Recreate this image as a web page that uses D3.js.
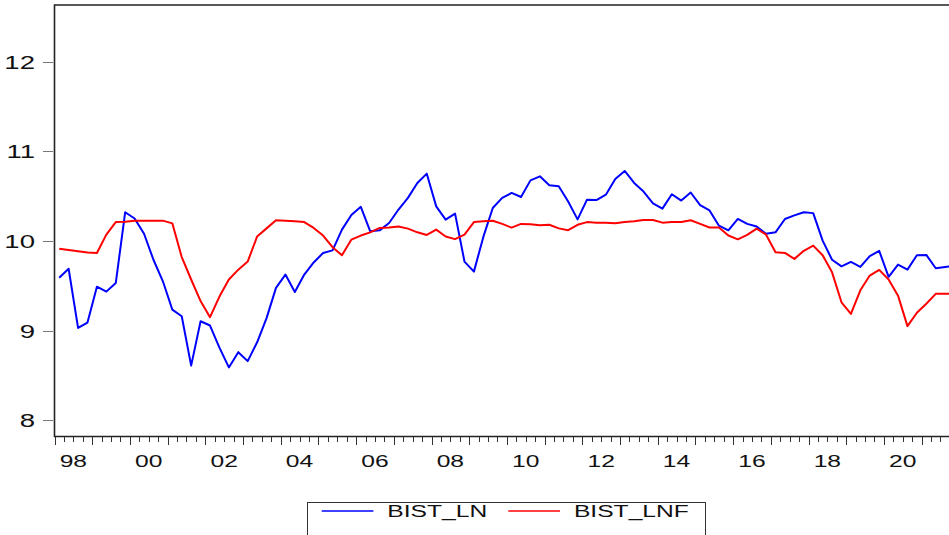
<!DOCTYPE html>
<html>
<head>
<meta charset="utf-8">
<script src="https://cdn.jsdelivr.net/npm/d3@7"></script>
<style>
    body { margin: 0; background: #fff; }
    svg { display: block; font-family: "Liberation Sans", Arial, sans-serif; }
</style>
</head>
<body>
<div id="chart"></div>
<script>

// quarterly series, 1998Q1 onwards
let startYear = 1998;

let bistLn = [
    9.59, 9.69, 9.03, 9.09, 9.49, 9.435, 9.53, 10.32,
    10.25, 10.08, 9.79, 9.55, 9.235, 9.16, 8.61, 9.105,
    9.057, 8.81, 8.59, 8.76, 8.66, 8.87, 9.14, 9.477,
    9.625, 9.43, 9.625, 9.76, 9.866, 9.895, 10.126, 10.29,
    10.38, 10.107, 10.118, 10.2, 10.35, 10.48, 10.646, 10.75,
    10.385, 10.237, 10.304, 9.77, 9.658, 10.045, 10.367, 10.48,
    10.535, 10.49, 10.675, 10.72, 10.62, 10.61, 10.44, 10.24,
    10.46, 10.456, 10.515, 10.69, 10.78, 10.646, 10.55, 10.42,
    10.36, 10.52, 10.45, 10.54, 10.40, 10.34, 10.17, 10.118,
    10.245, 10.19, 10.16, 10.08, 10.096, 10.245, 10.285, 10.32,
    10.31, 10.003, 9.79, 9.717, 9.766, 9.71, 9.83, 9.89,
    9.60, 9.736, 9.68, 9.84, 9.844, 9.695, 9.71, 9.72
];

let bistLnf = [
    9.914, 9.90, 9.885, 9.87, 9.865, 10.07, 10.21, 10.215,
    10.226, 10.226, 10.226, 10.226, 10.196, 9.82, 9.57, 9.33,
    9.15, 9.38, 9.57, 9.68, 9.77, 10.05, 10.14, 10.23,
    10.225, 10.22, 10.21, 10.145, 10.06, 9.93, 9.84, 10.015,
    10.06, 10.096, 10.145, 10.15, 10.16, 10.137, 10.096, 10.067,
    10.126, 10.05, 10.02, 10.07, 10.21, 10.22, 10.225, 10.19,
    10.148, 10.19, 10.186, 10.174, 10.18, 10.14, 10.12, 10.18,
    10.21, 10.204, 10.204, 10.196, 10.21, 10.22, 10.234, 10.234,
    10.204, 10.21, 10.21, 10.23, 10.19, 10.15, 10.15, 10.06,
    10.018, 10.067, 10.137, 10.07, 9.873, 9.866, 9.80, 9.89,
    9.948, 9.84, 9.65, 9.316, 9.187, 9.45, 9.614, 9.677,
    9.57, 9.39, 9.05, 9.20, 9.30, 9.41, 9.41, 9.41
];

let yTicks = [8, 9, 10, 11, 12];
let labelYears = [1998, 2000, 2002, 2004, 2006, 2008, 2010, 2012, 2014, 2016, 2018, 2020];
let labelTexts = ["98", "00", "02", "04", "06", "08", "10", "12", "14", "16", "18", "20"];

let seriesNames = ["BIST_LN", "BIST_LNF"];
let seriesColors = ["#0000ff", "#ff0000"];


let width = 949, height = 535;
let plot = {left: 54.5, top: 5, bottom: 436.5, right: 959.3};
let stretch = 1.45;   // the original text is drawn wide

let svg = d3.select("#chart").append("svg")
    .attr("width", width)
    .attr("height", height);

let x = d3.scaleLinear()
    .domain([startYear, startYear + 24])
    .range([plot.left, plot.right]);

let y = d3.scaleLinear()
    .domain([7.82, 12.63])
    .range([plot.bottom, plot.top]);

// points sit in the middle of each quarter
let qTime = i => startYear + i / 4 + 0.125;

// wide text helper
function wideText(g, px, py, str, anchor, size) {
    return g.append("text")
        .attr("transform", `translate(${px},${py}) scale(${stretch},1)`)
        .attr("text-anchor", anchor)
        .attr("font-size", size)
        .attr("fill", "#111")
        .text(str);
}

// y axis ticks and labels
let yAxis = svg.append("g").attr("class", "y-axis");
yTicks.forEach(t => {
    yAxis.append("line")
        .attr("x1", 43).attr("x2", 53)
        .attr("y1", Math.round(y(t)) + 0.5).attr("y2", Math.round(y(t)) + 0.5)
        .attr("stroke", "#777")
        .attr("stroke-width", 1);
    wideText(yAxis, 35, y(t) + 7, t, "end", 19);
});

// x axis ticks: quarters and years
let xAxis = svg.append("g").attr("class", "x-axis");
d3.range(0, 24 * 4 + 1).forEach(q => {
    let xp = Math.round(x(startYear + q / 4)) + 0.5;
    if (xp > width) return;
    xAxis.append("line")
        .attr("x1", xp).attr("x2", xp)
        .attr("y1", plot.bottom)
        .attr("y2", q % 4 === 0 ? 445 : 442)
        .attr("stroke", "#333")
        .attr("stroke-width", 1);
});
labelYears.forEach((yr, i) => {
    wideText(xAxis, x(yr + 0.5), 467, labelTexts[i], "middle", 17);
});

// frame: left, top and bottom lines
svg.append("path")
    .attr("d", `M${width},${plot.top}H${plot.left}V${plot.bottom}H${width}`)
    .attr("fill", "none")
    .attr("stroke", "#222")
    .attr("stroke-width", 1.6);

// series lines
let line = d3.line()
    .x((d, i) => x(qTime(i)))
    .y(d => y(d));

[bistLn, bistLnf].forEach((series, k) => {
    svg.append("path")
        .datum(series)
        .attr("fill", "none")
        .attr("stroke", seriesColors[k])
        .attr("stroke-width", 2)
        .attr("stroke-linejoin", "round")
        .attr("d", line);
});

// legend
let legend = svg.append("g").attr("class", "legend");
legend.append("rect")
    .attr("x", 307.5).attr("y", 502.5)
    .attr("width", 398).attr("height", 50)
    .attr("fill", "#fff")
    .attr("stroke", "#333")
    .attr("stroke-width", 1);

let legendX = [321.7, 508.3];
seriesNames.forEach((name, k) => {
    legend.append("line")
        .attr("x1", legendX[k]).attr("x2", legendX[k] + 51.7)
        .attr("y1", 511).attr("y2", 511)
        .attr("stroke", seriesColors[k])
        .attr("stroke-width", 1.5);
    wideText(legend, legendX[k] + 65.6, 517, name, "start", 17);
});

</script>
</body>
</html>
